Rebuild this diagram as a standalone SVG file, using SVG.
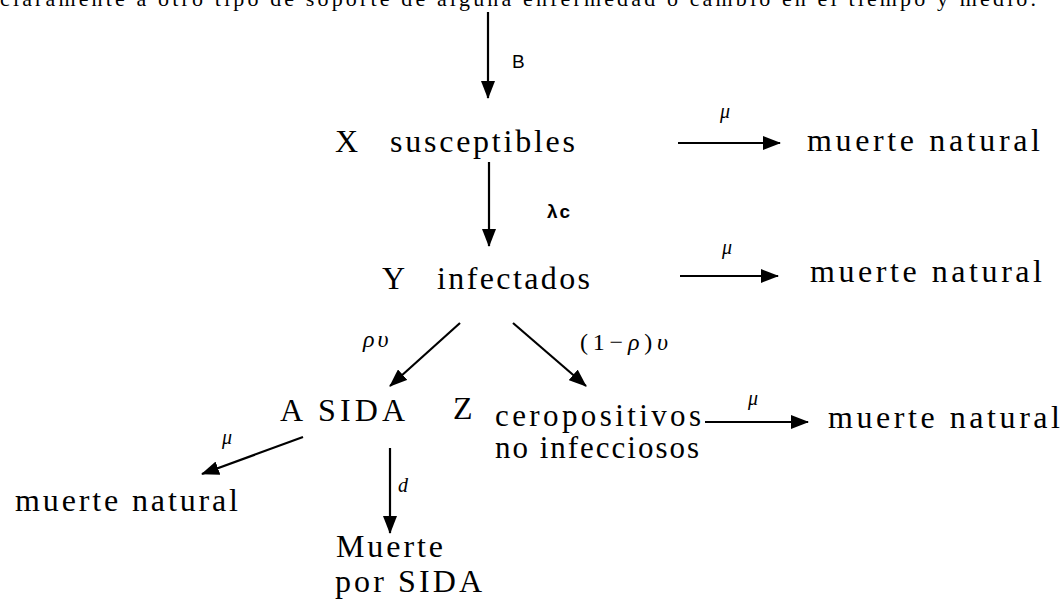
<svg xmlns="http://www.w3.org/2000/svg" width="1062" height="600" viewBox="0 0 1062 600">
<style>
text{font-family:"Liberation Serif","Times New Roman","DejaVu Serif",serif;fill:#000}
.t{font-size:32px}
.z{font-size:31px}
.top{font-size:22px}
.g{font-size:20px;font-style:italic}
.gl{font-size:24px}
.s{font-family:"Liberation Sans",Arial,sans-serif;font-size:19px}
.c{stroke:#000;stroke-width:2.2;fill:none;marker-end:url(#ah)}
</style>
<defs>
<marker id="ah" markerUnits="userSpaceOnUse" markerWidth="18" markerHeight="14" viewBox="0 0 18 14" refX="17" refY="7" orient="auto">
<path d="M0,0 L18,7 L0,14 z" fill="#000"/>
</marker>
</defs>
<rect width="1062" height="600" fill="#fff"/>
<text class="top" x="0" y="6" textLength="1036" lengthAdjust="spacing">claramente a otro tipo de soporte de alguna enfermedad o cambio en el tiempo y medio.</text>
<g id="connectors">
<line class="c" x1="488" y1="12" x2="488" y2="98"/>
<line class="c" x1="489" y1="162" x2="489" y2="246"/>
<line class="c" x1="678" y1="143" x2="780" y2="143"/>
<line class="c" x1="680" y1="276" x2="778" y2="276"/>
<line class="c" x1="460" y1="323" x2="390" y2="386"/>
<line class="c" x1="513" y1="323" x2="586" y2="386"/>
<line class="c" x1="705" y1="422" x2="808" y2="422"/>
<line class="c" x1="303" y1="437" x2="202" y2="474"/>
<line class="c" x1="390" y1="448" x2="390" y2="533"/>
</g>
<g id="labels">
<text class="s" x="512" y="68">B</text>
<text class="s" x="547" y="218" font-size="21" font-weight="bold" letter-spacing="2">λc</text>
<text class="g" x="720" y="118">μ</text>
<text class="g" x="722" y="254">μ</text>
<text class="g gl" x="363" y="347" letter-spacing="3">ρυ</text>
<text class="gl" x="580" y="350" textLength="88" lengthAdjust="spacing">(1−<tspan font-style="italic">ρ</tspan>)<tspan font-style="italic">υ</tspan></text>
<text class="g" x="748" y="405">μ</text>
<text class="g" x="222" y="444">μ</text>
<text class="g" x="398" y="492">d</text>
</g>
<g id="node-x">
<text class="t" x="335" y="152">X</text>
<text class="t" x="390" y="152" textLength="185" lengthAdjust="spacing">susceptibles</text>
</g>
<g id="node-mn1"><text class="t" x="807" y="151" textLength="233" lengthAdjust="spacing">muerte natural</text></g>
<g id="node-y">
<text class="t" x="382" y="289">Y</text>
<text class="t" x="437" y="289" textLength="153" lengthAdjust="spacing">infectados</text>
</g>
<g id="node-mn2"><text class="t" x="810" y="282" textLength="232" lengthAdjust="spacing">muerte natural</text></g>
<g id="node-a">
<text class="t" x="280" y="421">A</text>
<text class="t" x="318" y="421" textLength="87" lengthAdjust="spacing">SIDA</text>
</g>
<g id="node-z">
<text class="t" x="453" y="419">Z</text>
<text class="z" x="495" y="426" textLength="206" lengthAdjust="spacing">ceropositivos</text>
<text class="z" x="495" y="458" textLength="204" lengthAdjust="spacing">no infecciosos</text>
</g>
<g id="node-mn3"><text class="t" x="828" y="428" textLength="232" lengthAdjust="spacing">muerte natural</text></g>
<g id="node-mn4"><text class="t" x="15" y="511" textLength="223" lengthAdjust="spacing">muerte natural</text></g>
<g id="node-ms">
<text class="t" x="336" y="557" textLength="107" lengthAdjust="spacing">Muerte</text>
<text class="t" x="335" y="592" textLength="147" lengthAdjust="spacing">por SIDA</text>
</g>
</svg>
